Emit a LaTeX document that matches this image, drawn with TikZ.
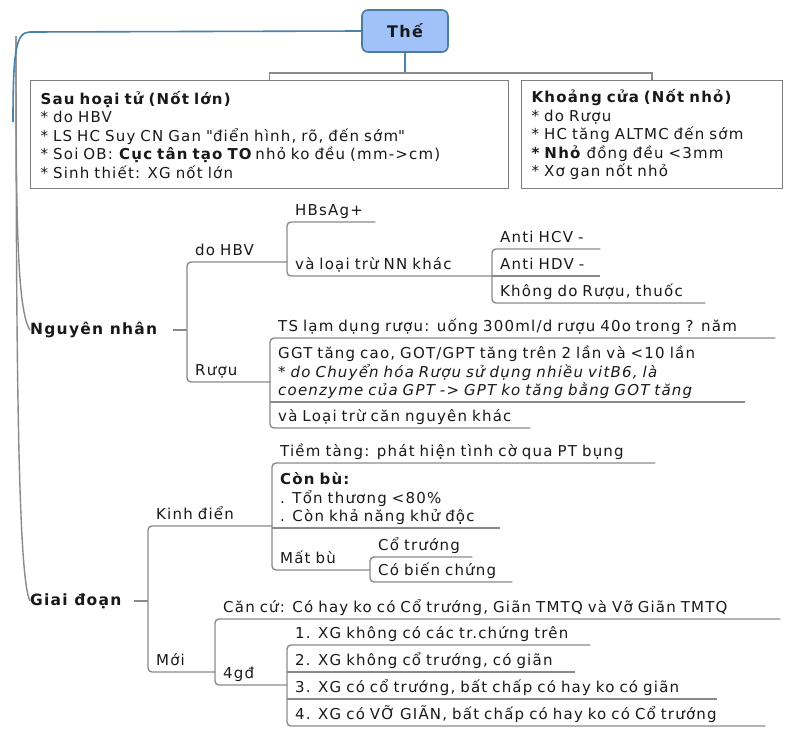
\documentclass[tikz,border=0pt]{standalone}
\usepackage{fontspec}
\setmainfont{DejaVu Sans}[LetterSpace=8]
\usetikzlibrary{calc}
\definecolor{linegray}{RGB}{138,138,138}
\definecolor{boxgray}{RGB}{125,125,125}
\definecolor{headfill}{RGB}{160,194,248}
\definecolor{headline}{RGB}{74,124,160}
\definecolor{stem}{RGB}{72,130,170}
\newcommand{\bul}{{*}~}
\begin{document}
\begin{tikzpicture}[x=1pt,y=-1pt,
  every node/.style={font=\fontsize{15}{18.5}\selectfont, text=black!90},
  gline/.style={draw=linegray, line width=1.4pt, rounded corners=4pt},
  bline/.style={draw=stem, line width=1.6pt},
  topic/.style={anchor=south west, inner xsep=8pt, inner ysep=0.5pt, text width=#1pt, align=left, execute at end node=\strut},
  card/.style={draw=boxgray, line width=1.3pt, fill=white, anchor=north west, inner xsep=10pt, text width=#1pt, align=left, minimum height=108pt},
  head/.style={draw=headline, fill=headfill, line width=1.6pt, rounded corners=6pt, minimum width=86pt, minimum height=42pt, font=\fontsize{16}{19}\selectfont\bfseries},
  major/.style={anchor=west, inner sep=0pt, font=\fontsize{15.5}{18.5}\selectfont\bfseries},
]
\useasboundingbox (0,0) rectangle (787,731);

% ---- heading and the two cirrhosis types
\node[head] (the) at (405,31) {Thế};
\node[card=458] (b1) at (30,80) {\textbf{Sau hoại tử (Nốt lớn)}\\
\bul do HBV\\
\bul LS HC Suy CN Gan \textquotedbl điển hình, rõ, đến sớm\textquotedbl\\
\bul Soi OB: \textbf{Cục tân tạo TO}\,nhỏ ko đều (mm->cm)\\
\bul Sinh thiết: XG nốt lớn};
\node[card=241] (b2) at (521,80) {\textbf{Khoảng cửa (Nốt nhỏ)}\\
\bul do Rượu\\
\bul HC tăng ALTMC đến sớm\\
\textbf{\bul Nhỏ} đồng đều <3mm\\
\bul Xơ gan nốt nhỏ};

\coordinate (fork) at ($(the.south)+(0,20)$);
\draw[bline] (the.south) -- (fork);
\draw[gline, rounded corners=0pt] (b1.north) |- (fork) -| (b2.north);

% ---- Nguyên nhân
\node[major] (nn) at (30,330) {Nguyên nhân};
\node[topic=84]  (hbv)  at (187,262) {do HBV};
\node[topic=72]  (hbs)  at (287,222) {HBsAg+};
\node[topic=189] (lt)   at (287,276) {và loại trừ NN khác};
\node[topic=92]  (hcv)  at (492,249) {Anti HCV -};
\node[topic=92]  (hdv)  at (492,276) {Anti HDV -};
\node[topic=197] (kdr)  at (492,303) {Không do Rượu, thuốc};
\node[topic=67]  (ruou) at (187,382) {Rượu};
\node[topic=489] (ts)   at (270,338) {TS lạm dụng rượu: uống 300ml/d rượu 40o trong ? năm};
\node[topic=459] (ggt)  at (270,402) {GGT tăng cao, GOT/GPT tăng trên 2 lần và <10 lần\\
\textit{* do Chuyển hóa Rượu sử dụng nhiều vitB6, là}\\
\textit{coenzyme của GPT -> GPT ko tăng bằng GOT tăng}};
\node[topic=244] (ltk)  at (270,428) {và Loại trừ căn nguyên khác};

% ---- Giai đoạn
\node[major] (gd) at (30,601) {Giai đoạn};
\node[topic=108] (kd)  at (148,526) {Kinh điển};
\node[topic=367] (tt)  at (272,463) {Tiềm tàng: phát hiện tình cờ qua PT bụng};
\node[topic=212] (cb)  at (272,528) {\textbf{Còn bù:}\\. Tổn thương <80\%\\. Còn khả năng khử độc};
\node[topic=82]  (mb)  at (272,570) {Mất bù};
\node[topic=86]  (ct)  at (370,557) {Cổ trướng};
\node[topic=126] (cbc) at (370,582) {Có biến chứng};
\node[topic=51]  (moi) at (148,672) {Mới};
\node[topic=549] (cc)  at (215,619) {Căn cứ: Có hay ko có Cổ trướng, Giãn TMTQ và Vỡ Giãn TMTQ};
\node[topic=56]  (g4)  at (215,685) {4gđ};
\node[topic=287] (s1)  at (287,645) {1. XG không có các tr.chứng trên};
\node[topic=272] (s2)  at (287,672) {2. XG không cổ trướng, có giãn};
\node[topic=414] (s3)  at (287,699) {3. XG có cổ trướng, bất chấp có hay ko có giãn};
\node[topic=462] (s4)  at (287,726) {4. XG có VỠ GIÃN, bất chấp có hay ko có Cổ trướng};

% ---- trunk on the left
\coordinate (root) at (16,36);
\coordinate (bend) at (30,32);
\coordinate (stemend) at (13,122);
\draw[gline] (root) .. controls (16,220) and (17,310) .. (nn.west);
\draw[gline] (root) .. controls (16,400) and (19,580) .. (gd.west);
\draw[bline] (the.west) -- (bend) .. controls (16,32) and (13,50) .. (stemend);

% ---- branch brackets (underlines included)
\draw[gline] ($(nn.east)+(16,0)$) -- (nn.east -| hbv.south west);
\draw[gline] (hbv.south east) -- (hbv.south west) -- (ruou.south west) -- (ruou.south east);
\draw[gline] (hbs.south east) -- (hbs.south west) -- (lt.south west) -- (lt.south east);
\draw[gline] (hcv.south east) -- (hcv.south west) -- (kdr.south west) -- (kdr.south east);
\draw[gline] (hdv.south west) -- (hdv.south east);
\draw[gline] (ts.south east) -- (ts.south west) -- (ltk.south west) -- (ltk.south east);
\draw[gline] (ggt.south west) -- (ggt.south east);

\draw[gline] ($(gd.east)+(12,0)$) -- (gd.east -| kd.south west);
\draw[gline] (kd.south east) -- (kd.south west) -- (moi.south west) -- (moi.south east);
\draw[gline] (tt.south east) -- (tt.south west) -- (mb.south west) -- (mb.south east);
\draw[gline] (cb.south west) -- (cb.south east);
\draw[gline] (ct.south east) -- (ct.south west) -- (cbc.south west) -- (cbc.south east);
\draw[gline] (cc.south east) -- (cc.south west) -- (g4.south west) -- (g4.south east);
\draw[gline] (s1.south east) -- (s1.south west) -- (s4.south west) -- (s4.south east);
\draw[gline] (s2.south west) -- (s2.south east);
\draw[gline] (s3.south west) -- (s3.south east);
\end{tikzpicture}
\end{document}
